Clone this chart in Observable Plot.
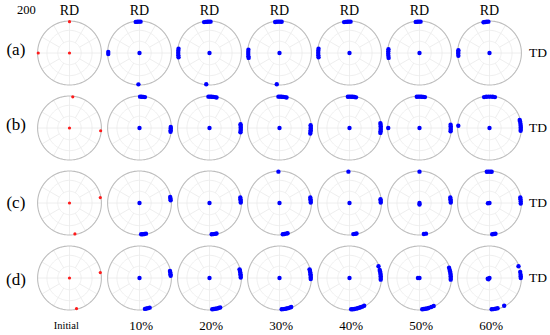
<!DOCTYPE html>
<html><head><meta charset="utf-8">
<script src="https://cdn.jsdelivr.net/npm/d3@7"></script>
<script src="https://cdn.jsdelivr.net/npm/@observablehq/plot@0.6"></script>
<style>body{margin:0;background:#fff}</style>
</head><body><div id="chart"></div>
<script>
// Row labels, columns (strain levels), and pole positions [column, azimuth deg (0 = TD, 90 = RD), radius 0..1]
const rowKeys = ["a", "b", "c", "d"];
const rowLabels = ["(a)", "(b)", "(c)", "(d)"];
const strains = ["Initial", "10%", "20%", "30%", "40%", "50%", "60%"];
const figLabel = "200";

const polesA = [
  [0,0,0],[0,90,1],[0,180,1],
  [1,0,0],[1,88,1],[1,91,1],[1,94,1],[1,97,1],[1,178,1],[1,182,1],[1,268,1],
  [2,0,0],[2,88,1],[2,91,1],[2,94,1],[2,97,1],[2,100,1],[2,172,1],[2,176,1],[2,180,1],[2,184,1],[2,188,1],[2,264,1],
  [3,0,0],[3,86,1],[3,89,1],[3,92,1],[3,95,1],[3,98,1],[3,174,1],[3,178,1],[3,182,1],[3,186,1],[3,189,1],[3,265,1],
  [4,0,0],[4,88,1],[4,91,1],[4,94,1],[4,97,1],[4,100,1],[4,172,1],[4,176,1],[4,180,1],[4,184,1],[4,188,1],
  [5,0,0],[5,88,1],[5,91,1],[5,94,1],[5,97,1],[5,173,1],[5,177,1],[5,181,1],[5,185,1],[5,189,1],
  [6,0,0],[6,92,1],[6,95,1],[6,98,1],[6,101,1],[6,175,1],[6,178,1],[6,181,1],[6,185,1]
];
const polesB = [
  [0,0,0],[0,84,1],[0,-5,1],
  [1,0,0],[1,80,1],[1,83,1],[1,86,1],[1,89,1],[1,-7,1],[1,-4,1],[1,-1,1],[1,2,1],
  [2,0,0],[2,77,1],[2,80,1],[2,83,1],[2,86,1],[2,89,1],[2,92,1],[2,-8,1],[2,-5,1],[2,-2,1],[2,1,1],[2,4,1],[2,7,1],
  [3,0,0],[3,77,1],[3,80,1],[3,83,1],[3,86,1],[3,89,1],[3,92,1],[3,-10,1],[3,-7,1],[3,-4,1],[3,-1,1],[3,2,1],[3,5,1],
  [4,0,0],[4,78,1],[4,81,1],[4,84,1],[4,87,1],[4,90,1],[4,93,1],[4,-9,1],[4,-6,1],[4,-3,1],[4,0,1],[4,3,1],[4,6,1],[4,9,1],
  [5,0,0],[5,80,1],[5,83,1],[5,86,1],[5,89,1],[5,92,1],[5,95,1],[5,-6,1],[5,-3,1],[5,0,1],[5,3,1],[5,6,1],[5,180,1],
  [6,0,0],[6,80,1],[6,84,1],[6,88,1],[6,92,1],[6,96,1],[6,100,1],[6,-5,1],[6,-2,1],[6,1,1],[6,4,1],[6,8,1],[6,12,1],[6,15,1],[6,176,1]
];
const polesC = [
  [0,0,0],[0,10,1],[0,280,1],
  [1,0,0],[1,5,1],[1,8,1],[1,11,1],[1,273,1],[1,276,1],[1,279,1],[1,282,1],
  [2,0,0],[2,1,1],[2,4,1],[2,7,1],[2,10,1],[2,274,1],[2,277,1],[2,280,1],[2,283,1],
  [3,0,0],[3,92,1],[3,1,1],[3,4,1],[3,7,1],[3,10,1],[3,276,1],[3,279,1],[3,282,1],[3,285,1],
  [4,0,0],[4,92,1],[4,1,1],[4,4,1],[4,7,1],[4,277,1],[4,280,1],[4,283,1],
  [5,0,0],[5,270,0.05],[5,90,1],[5,1,1],[5,4,1],[5,7,1],[5,10,1],[5,278,1],[5,282,1],
  [6,0,0],[6,190,0.05],[6,86,1],[6,89,1],[6,92,1],[6,95,1],[6,-1,1],[6,3,1],[6,7,1],[6,10,1],[6,275,1],[6,278,1],[6,281,1]
];
const polesD = [
  [0,0,0],[0,10,1],[0,283,1],
  [1,0,0],[1,4,1],[1,7,1],[1,10,1],[1,13,1],[1,280,1],[1,283,1],[1,286,1],[1,289,1],
  [2,0,0],[2,1,1],[2,4,1],[2,7,1],[2,10,1],[2,13,1],[2,16,1],[2,275,1],[2,278,1],[2,281,1],[2,284,1],[2,287,1],[2,290,1],
  [3,0,0],[3,-2,1],[3,1,1],[3,4,1],[3,7,1],[3,10,1],[3,13,1],[3,16,1],[3,274,1],[3,277,1],[3,280,1],[3,283,1],[3,286,1],[3,289,1],[3,292,1],
  [4,0,0],[4,-3,1],[4,0,1],[4,3,1],[4,6,1],[4,9,1],[4,12,1],[4,15,1],[4,22,1],[4,273,1],[4,276,1],[4,279,1],[4,282,1],[4,285,1],[4,288,1],[4,291,1],[4,294,1],[4,298,1],
  [5,0,0],[5,180,0.05],[5,-3,1],[5,0,1],[5,3,1],[5,6,1],[5,9,1],[5,12,1],[5,15,1],[5,19,1],[5,275,1],[5,278,1],[5,281,1],[5,284,1],[5,287,1],[5,292,1],[5,297,1],
  [6,0,0],[6,200,0.06],[6,230,0.05],[6,0,1],[6,3,1],[6,6,1],[6,11,1],[6,22,1],[6,274,1],[6,277,1],[6,281,1],[6,285,1],[6,298,1]
];

const rad = Math.PI / 180;
const poles = [["a", polesA], ["b", polesB], ["c", polesC], ["d", polesD]]
  .flatMap(([row, arr]) => arr.map(([col, az, r]) => ({row, col, az, r: r * 0.98})));
const px = d => d.r * Math.cos(d.az * rad);
const py = d => d.r * Math.sin(d.az * rad);

// polar grid geometry (not data)
const ringPts = [];
for (const R of [0.366, 0.707, 1]) for (let a = 0; a <= 360; a += 3) ringPts.push({R, x: R * Math.cos(a * rad), y: R * Math.sin(a * rad)});
const spokes = d3.range(0, 360, 30).map(a => ({a}));

const cols = d3.range(strains.length);
const font = '"Liberation Serif","Times New Roman",serif';

const labelRows = rowKeys.map((k, i) => ({fy: k, t: rowLabels[i], x: -1.68, y: [0.1, 0.1, 0, -0.05][i], size: 17}))
  .concat([{fy: "a", t: figLabel, x: -1.35, y: 1.33, size: 12.5}]);

const chart = Plot.plot({
  width: 550, height: 335,
  marginLeft: 33, marginRight: 25.6, marginTop: 15, marginBottom: 20,
  fx: {domain: cols, padding: 0, axis: null},
  fy: {domain: rowKeys, padding: 0, axis: null},
  x: {domain: [-1.097, 1.097], axis: null},
  y: {domain: [-1.172, 1.172], axis: null},
  style: {fontFamily: font, background: "#fff", color: "#000", overflow: "visible"},
  marks: [
    Plot.link(spokes, {x1: d => 0.366 * Math.cos(d.a * rad), y1: d => 0.366 * Math.sin(d.a * rad), x2: d => Math.cos(d.a * rad), y2: d => Math.sin(d.a * rad), stroke: "#ececec", strokeWidth: 0.9}),
    Plot.link(spokes.filter(d => d.a % 90 === 0), {x1: d => 0, y1: d => 0, x2: d => 0.366 * Math.cos(d.a * rad), y2: d => 0.366 * Math.sin(d.a * rad), stroke: "#ececec", strokeWidth: 0.9}),
    Plot.line(ringPts.filter(d => d.R < 1), {x: "x", y: "y", z: "R", stroke: "#ececec", strokeWidth: 0.9}),
    Plot.line(ringPts.filter(d => d.R === 1), {x: "x", y: "y", stroke: "#bdbdbd", strokeWidth: 1.1}),
    Plot.dot(poles.filter(d => d.col === 0), {fx: "col", fy: "row", x: px, y: py, r: 1.6, fill: "#ff1a1a", stroke: "none"}),
    Plot.dot(poles.filter(d => d.col !== 0), {fx: "col", fy: "row", x: px, y: py, r: 2.2, fill: "#0000ff", stroke: "none"}),
    Plot.text(cols, {fx: d => d, fy: () => "a", x: () => 0, y: () => 1.33, text: () => "RD", fontSize: 14, fill: "#000"}),
    Plot.text(rowKeys, {fx: () => 6, fy: d => d, x: () => 1.52, y: () => 0, text: () => "TD", fontSize: 13.5, fill: "#000"}),
    Plot.text(labelRows, {fx: () => 0, fy: "fy", x: "x", y: "y", text: "t", fontSize: "size", fill: "#000"}),
    Plot.text(cols, {fx: d => d, fy: () => "d", x: d => d === 0 ? -0.1 : 0.05, y: () => -1.5, text: d => strains[d], fontSize: d => d === 0 ? 10.5 : 13, fontWeight: d => d === 0 ? "bold" : "normal", fill: "#000"})
  ]
});
document.getElementById("chart").appendChild(chart);
</script>
</body></html>
